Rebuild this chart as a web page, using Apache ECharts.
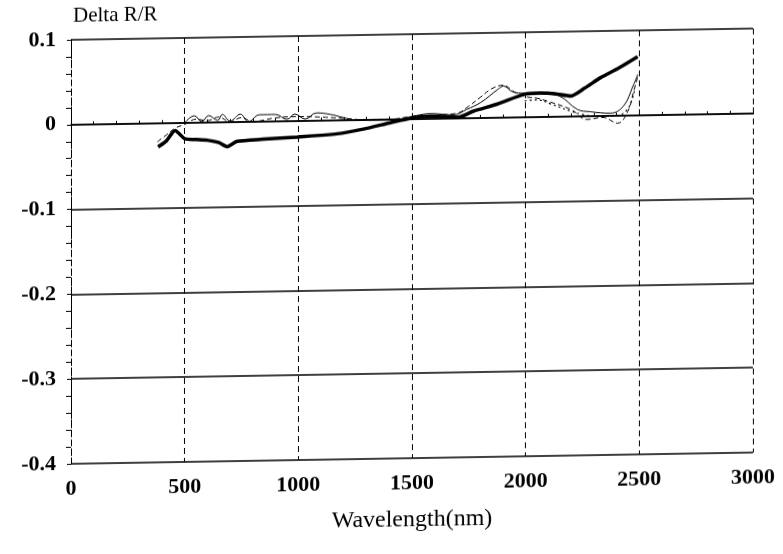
<!DOCTYPE html>
<html>
<head>
<meta charset="utf-8">
<script src="https://cdn.jsdelivr.net/npm/echarts@6/dist/echarts.min.js"></script>
<style>
  html, body { margin: 0; padding: 0; background: #fff; overflow: hidden; }
  /* the scanned original leans slightly: horizontal lines fall to the left */
  #chart { width: 783px; height: 554px; transform: skewY(-0.95deg); transform-origin: 0 0; }
</style>
</head>
<body>
<div id="chart"></div>
<script>
// wavelengths (nm) and Delta R/R values
const thickX = [383, 420, 458, 502, 550, 599, 650, 687, 731, 846, 996, 1172, 1286, 1405, 1496, 1581, 1700, 1771, 1877, 1996, 2066, 2130, 2198, 2260, 2330, 2410, 2493];
const thickY = [-0.028, -0.021, -0.009, -0.019, -0.020, -0.021, -0.024, -0.029, -0.023, -0.021, -0.019, -0.016, -0.011, -0.004, 0.001, 0.003, 0.001, 0.008, 0.016, 0.027, 0.028, 0.027, 0.024, 0.033, 0.045, 0.056, 0.069];

const thinX = [500, 543, 575, 606, 645, 666, 700, 745, 780, 830, 900, 950, 985, 1030, 1080, 1141, 1198, 1250, 1350, 1450, 1520, 1581, 1683, 1740, 1802, 1877, 1903, 1943, 1996, 2080, 2150, 2228, 2285, 2373, 2430, 2475, 2493];
const thinY = [0.000, 0.008, 0.001, 0.008, 0.002, 0.009, 0.001, 0.009, 0.000, 0.008, 0.008, 0.002, 0.008, 0.002, 0.009, 0.007, 0.003, 0.000, -0.001, 0.000, 0.004, 0.006, 0.004, 0.010, 0.018, 0.033, 0.037, 0.030, 0.028, 0.027, 0.024, 0.008, 0.005, 0.003, 0.011, 0.036, 0.048];

const dashX = [380, 420, 460, 500, 550, 600, 650, 700, 750, 800, 900, 1000, 1100, 1200, 1300, 1400, 1500, 1600, 1700, 1750, 1800, 1850, 1900, 1950, 2000, 2050, 2100, 2200, 2270, 2340, 2405, 2450, 2475, 2493];
const dashY = [-0.022, -0.014, -0.006, -0.002, 0.004, 0.002, 0.006, 0.000, 0.005, 0.000, 0.004, 0.005, 0.004, 0.002, 0.000, 0.000, 0.003, 0.004, 0.006, 0.014, 0.024, 0.034, 0.038, 0.030, 0.024, 0.022, 0.018, 0.008, -0.004, -0.002, -0.009, 0.005, 0.028, 0.045];

const dotX = [1996, 2050, 2110, 2200, 2250, 2300, 2400, 2450, 2480];
const dotY = [0.019, 0.020, 0.015, 0.006, 0.002, 0.000, 0.000, 0.008, 0.030];

const xTicks = [0, 500, 1000, 1500, 2000, 2500, 3000];
const yTicks = [-0.4, -0.3, -0.2, -0.1, 0, 0.1];

const pairs = (xs, ys) => xs.map((x, i) => [x, ys[i]]);
const font = 'Liberation Serif';

const chart = echarts.init(document.getElementById('chart'));
chart.setOption({
  animation: false,
  backgroundColor: '#fff',
  grid: { left: 71, right: 30, top: 41, bottom: 89 },
  title: {
    text: 'Delta R/R', left: 68, top: 2,
    textStyle: { fontFamily: font, fontSize: 21, fontWeight: 'normal', color: '#000' }
  },
  xAxis: {
    type: 'value', min: 0, max: 3000, interval: 500,
    name: 'Wavelength(nm)', nameLocation: 'middle', nameGap: 50,
    nameTextStyle: { fontFamily: font, fontSize: 24, color: '#000' },
    axisLine: { lineStyle: { color: '#000', width: 1.5 } },
    axisTick: { inside: true, length: 6, lineStyle: { color: '#000' } },
    minorTick: { show: true, splitNumber: 5, length: 3, lineStyle: { color: '#000' } },
    axisLabel: {
      fontFamily: font, fontSize: 22, fontWeight: 'bold', color: '#000', margin: 14,
      formatter: v => xTicks.includes(v) ? String(v) : ''
    },
    splitLine: { show: true, lineStyle: { color: '#000', type: [6, 4], width: 1 } }
  },
  yAxis: {
    type: 'value', min: -0.4, max: 0.1, interval: 0.1,
    axisLine: { show: true, lineStyle: { color: '#000', width: 1, type: [6, 3] } },
    axisTick: { show: true, inside: false, length: 4, lineStyle: { color: '#000' } },
    minorTick: { show: true, splitNumber: 5, length: 5, lineStyle: { color: '#000' } },
    axisLabel: {
      fontFamily: font, fontSize: 22, fontWeight: 'bold', color: '#000', margin: 15,
      formatter: v => {
        const t = yTicks.find(k => Math.abs(k - v) < 1e-9);
        return t === undefined ? '' : (t === 0 ? '0' : String(t));
      }
    },
    splitLine: { show: true, lineStyle: { color: '#000', width: 1.5 } }
  },
  series: [
    { type: 'line', data: pairs(thickX, thickY), showSymbol: false, smooth: 0.25,
      lineStyle: { color: '#000', width: 3.5 } },
    { type: 'line', data: pairs(thinX, thinY), showSymbol: false, smooth: 0.4,
      lineStyle: { color: '#000', width: 1 } },
    { type: 'line', data: pairs(dashX, dashY), showSymbol: false, smooth: 0.4,
      lineStyle: { color: '#000', width: 1, type: [5, 3] } },
    { type: 'line', data: pairs(dotX, dotY), showSymbol: false, smooth: 0.4,
      lineStyle: { color: '#000', width: 1.2, type: [2, 3] } }
  ]
});
</script>
</body>
</html>
